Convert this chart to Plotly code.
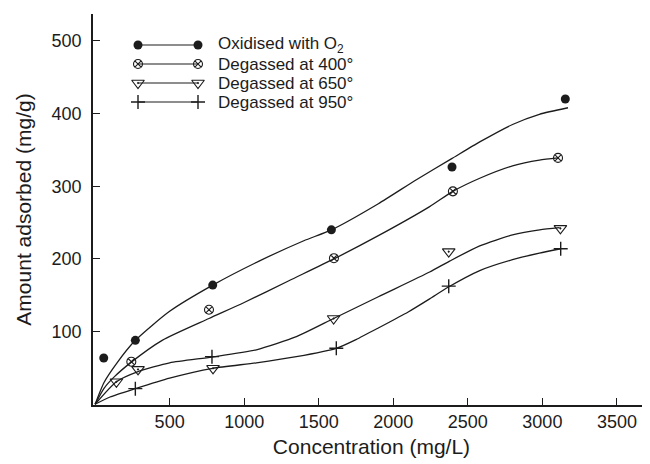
import plotly.graph_objects as go

# ---------------- data ----------------
names = ["Oxidised with O<sub>2</sub>", "Degassed at 400°", "Degassed at 650°", "Degassed at 950°"]

# measured points
ox_x = [58, 270, 789, 1585, 2394, 3154]
ox_y = [63.6, 88, 164, 240, 326.5, 420]
d400_x = [243, 764, 1602, 2400, 3105]
d400_y = [58.6, 130, 201, 293, 339]
d650_x = [143, 288, 791, 1600, 2372, 3121]
d650_y = [31, 48, 49.5, 118, 210, 242]
d950_x = [270, 784, 1618, 2372, 3123]
d950_y = [21.5, 65.5, 77, 162.5, 214]

# fitted curves as drawn in the reference
c_ox_x = [0, 60, 140, 270, 500, 789, 1100, 1400, 1585, 1900, 2155, 2392, 2580, 2800, 2980, 3172]
c_ox_y = [0, 30, 55, 88, 128, 164, 197, 225, 240, 276, 309, 338, 361, 385, 399, 408]
c_400_x = [0, 60, 130, 243, 450, 764, 1000, 1300, 1602, 1900, 2244, 2400, 2580, 2800, 2980, 3105]
c_400_y = [0, 22, 38, 58, 88, 118, 140, 170, 200, 232, 272, 293, 311, 328, 336, 339]
c_mid_x = [0, 143, 288, 500, 784, 1082, 1350, 1600, 1900, 2244, 2378, 2580, 2800, 2982, 3116]
c_mid_y = [0, 31, 45, 57, 65, 75, 93, 118, 148, 182, 197, 218, 233, 240, 243]
c_low_x = [0, 100, 270, 500, 789, 1082, 1350, 1618, 1750, 1900, 2100, 2244, 2367, 2580, 2800, 2980, 3123]
c_low_y = [0, 10, 21.5, 36, 49.5, 57, 65.5, 77, 89, 105, 127, 145, 161, 184, 199, 208, 214]

x_ticks = [500, 1000, 1500, 2000, 2500, 3000, 3500]
y_ticks = [100, 200, 300, 400, 500]

# ---------------- styling ----------------
INK = "#1c1c1c"
FONT = "Liberation Sans, Arial, sans-serif"
markers = [
    dict(symbol="circle", size=9, color=INK, line=dict(width=0)),
    dict(symbol="circle-x-open", size=9, color=INK, line=dict(width=1.1)),
    dict(symbol="triangle-down-open-dot", size=11, color=INK, line=dict(width=1.1)),
    dict(symbol="cross-thin-open", size=10, color=INK, line=dict(width=1.4)),
]

fig = go.Figure()

for cx, cy in [(c_ox_x, c_ox_y), (c_400_x, c_400_y), (c_mid_x, c_mid_y), (c_low_x, c_low_y)]:
    fig.add_trace(go.Scatter(x=cx, y=cy, mode="lines", line=dict(color=INK, width=1.3, shape="spline", smoothing=0.6),
                             showlegend=False, hoverinfo="skip"))

for (px, py), mk, nm in zip([(ox_x, ox_y), (d400_x, d400_y), (d650_x, d650_y), (d950_x, d950_y)], markers, names):
    fig.add_trace(go.Scatter(x=px, y=py, mode="markers", marker=mk, name=nm, showlegend=False))

# manual legend drawn on an overlay axis measured in page pixels
LEG_X0, LEG_X1, LEG_TXT = 138, 198, 216
LEG_ROWS = [45, 64, 83, 102]
for yrow, mk, nm in zip(LEG_ROWS, markers, names):
    fig.add_trace(go.Scatter(x=[LEG_X0, LEG_X1], y=[yrow, yrow], mode="lines+markers", marker=mk,
                             line=dict(color=INK, width=1.2), xaxis="x2", yaxis="y2",
                             showlegend=False, hoverinfo="skip"))
    fig.add_annotation(x=LEG_TXT, y=yrow, xref="x2", yref="y2", text=nm, showarrow=False,
                       xanchor="left", yanchor="middle", font=dict(family=FONT, size=17, color=INK))

# the page body adds an 8px offset, so the figure is 8px smaller than the window
fig.update_layout(
    width=642, height=456,
    margin=dict(l=85, r=0, t=6, b=59),
    paper_bgcolor="white", plot_bgcolor="white",
    font=dict(family=FONT, color=INK),
    showlegend=False,
    xaxis=dict(range=[-14, 3722], tickvals=x_ticks, ticks="inside", ticklen=7, tickwidth=1.2,
               tickcolor=INK, showline=True, linecolor=INK, linewidth=1.6, showgrid=False,
               zeroline=False, tickfont=dict(size=18, family=FONT, color=INK), automargin=False,
               title=dict(text="Concentration (mg/L)", font=dict(size=21, family=FONT, color=INK), standoff=8)),
    yaxis=dict(range=[-1, 537], tickvals=y_ticks, ticks="inside", ticklen=7, tickwidth=1.2,
               tickcolor=INK, showline=True, linecolor=INK, linewidth=1.6, showgrid=False,
               zeroline=False, tickfont=dict(size=18, family=FONT, color=INK), ticklabelstandoff=6,
               automargin=False,
               title=dict(text="Amount adsorbed (mg/g)", font=dict(size=21, family=FONT, color=INK), standoff=14)),
    xaxis2=dict(range=[93, 650], overlaying="x", visible=False, fixedrange=True),
    yaxis2=dict(range=[405, 14], overlaying="y", visible=False, fixedrange=True),
)

fig.write_html("out.html")
